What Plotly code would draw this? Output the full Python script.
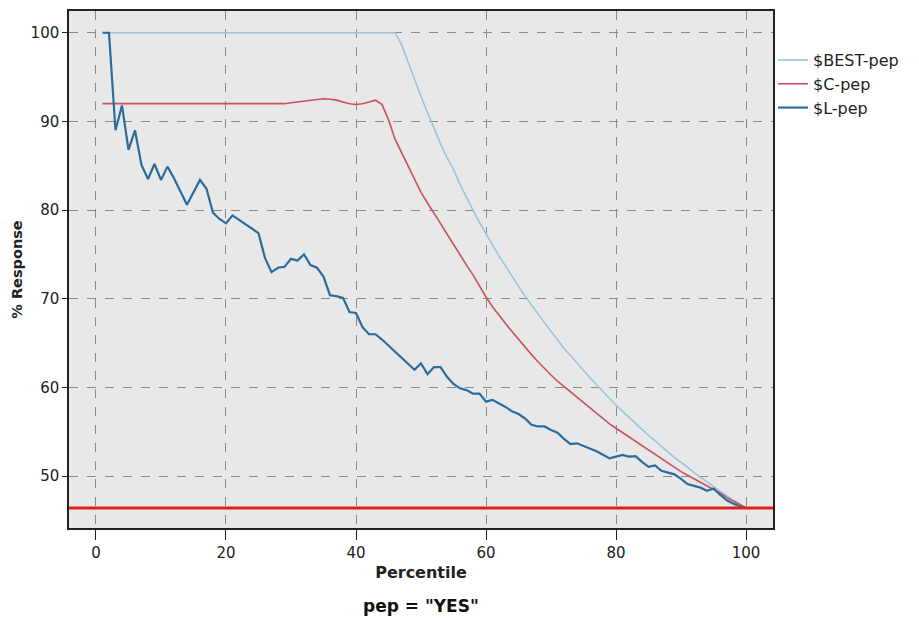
import plotly.graph_objects as go

percentile = list(range(1, 101))

best_pep = [100.0] * 46 + [
    98.7, 96.7, 94.7, 92.8, 91.0, 89.2, 87.5, 85.9, 84.6, 82.9,
    81.4, 80.0, 78.6, 77.3, 76.1, 74.8, 73.7, 72.5, 71.4, 70.3,
    69.3, 68.2, 67.2, 66.3, 65.4, 64.4, 63.6, 62.7, 61.9, 61.1,
    60.3, 59.5, 58.7, 58.0, 57.3, 56.6, 55.9, 55.2, 54.6, 54.0,
    53.3, 52.7, 52.1, 51.6, 51.0, 50.4, 49.9, 49.4, 48.8, 48.3,
    47.8, 47.3, 46.9, 46.4]

c_pep = [92.0] * 28 + [
    92.0, 92.1, 92.2, 92.3, 92.4, 92.5, 92.55, 92.5, 92.4, 92.2,
    92.0, 91.9, 92.0, 92.2, 92.4, 91.9, 90.2, 88.0, 86.5, 85.0,
    83.6, 82.0, 80.8, 79.7, 78.5, 77.3, 76.1, 75.0, 73.8, 72.7,
    71.4, 70.2, 69.1, 68.1, 67.2, 66.3, 65.4, 64.5, 63.7, 62.9,
    62.1, 61.4, 60.7, 60.1, 59.5, 58.9, 58.3, 57.6, 57.0, 56.4,
    55.9, 55.4, 54.9, 54.4, 53.9, 53.4, 52.9, 52.4, 51.9, 51.4,
    50.9, 50.5, 50.1, 49.7, 49.3, 48.9, 48.5, 48.1, 47.6, 47.2,
    46.8, 46.4]

l_pep = [
    100.0, 100.0, 89.0, 91.8, 86.8, 89.0, 85.1, 83.5, 85.2, 83.4,
    84.9, 83.6, 82.1, 80.6, 82.0, 83.4, 82.4, 79.7, 79.0, 78.5,
    79.4, 78.9, 78.3, 77.9, 77.4, 74.6, 73.0, 73.5, 73.6, 74.5,
    74.3, 75.0, 73.8, 73.5, 72.5, 70.4, 70.3, 70.1, 68.5, 68.4,
    66.8, 66.0, 66.0, 65.4, 64.7, 64.0, 63.3, 62.6, 62.0, 62.7,
    61.5, 62.3, 62.3, 61.2, 60.4, 59.9, 59.7, 59.3, 59.3, 58.4,
    58.6, 58.2, 57.8, 57.3, 57.0, 56.5, 55.8, 55.6, 55.6, 55.2,
    54.9, 54.2, 53.6, 53.7, 53.4, 53.1, 52.8, 52.4, 52.0, 52.2,
    52.4, 52.2, 52.25, 51.6, 51.05, 51.2, 50.6, 50.4, 50.2, 49.7,
    49.1, 48.9, 48.7, 48.35, 48.6, 47.9, 47.3, 46.9, 46.6, 46.4]

baseline = 46.4

x_ticks = [0, 20, 40, 60, 80, 100]
y_ticks = [50, 60, 70, 80, 90, 100]

FONT = "DejaVu Sans"

fig = go.Figure()
fig.add_trace(go.Scatter(x=percentile, y=best_pep, mode="lines", name="$BEST-pep",
                         line=dict(color="#9cc4d9", width=1.6)))
fig.add_trace(go.Scatter(x=percentile, y=c_pep, mode="lines", name="$C-pep",
                         line=dict(color="#c9525a", width=1.6)))
fig.add_trace(go.Scatter(x=percentile, y=l_pep, mode="lines", name="$L-pep",
                         line=dict(color="#2b6c9c", width=2.2)))
fig.add_hline(y=baseline, line=dict(color="#e0201f", width=3))

fig.update_layout(
    width=911, height=611,
    margin=dict(l=61, r=146, t=1, b=91),
    paper_bgcolor="white",
    plot_bgcolor="#e8e8e8",
    font=dict(family=FONT, size=15, color="#222"),
    showlegend=True,
    legend=dict(x=1.0, y=0.938, xanchor="left", yanchor="top",
                bgcolor="rgba(0,0,0,0)", font=dict(size=16, color="#222"),
                tracegroupgap=0, itemwidth=30),
    annotations=[dict(text='<b>pep = "YES"</b>', x=0.5, y=-0.150, xref="paper", yref="paper",
                      showarrow=False, font=dict(size=17, family=FONT, color="#111"),
                      xanchor="center", yanchor="middle")],
)

fig.update_xaxes(range=[-4.15, 104.15], tickvals=x_ticks, ticks="outside", ticklen=10,
                 tickcolor="#222", showline=True, linecolor="#222", linewidth=1.5, mirror=True,
                 showgrid=True, gridcolor="#8a8a8a", griddash="dash", gridwidth=1,
                 zeroline=False, tickfont=dict(size=15),
                 title=dict(text="<b>Percentile</b>", font=dict(size=16), standoff=6))
fig.update_yaxes(range=[44.15, 102.45], tickvals=y_ticks, ticks="outside", ticklen=5,
                 tickcolor="#222", showline=True, linecolor="#222", linewidth=1.5, mirror=True,
                 showgrid=True, gridcolor="#8a8a8a", griddash="dash", gridwidth=1,
                 zeroline=False, tickfont=dict(size=15),
                 title=dict(text="<b>% Response</b>", font=dict(size=14.5), standoff=5))

fig.write_html("out.html")
